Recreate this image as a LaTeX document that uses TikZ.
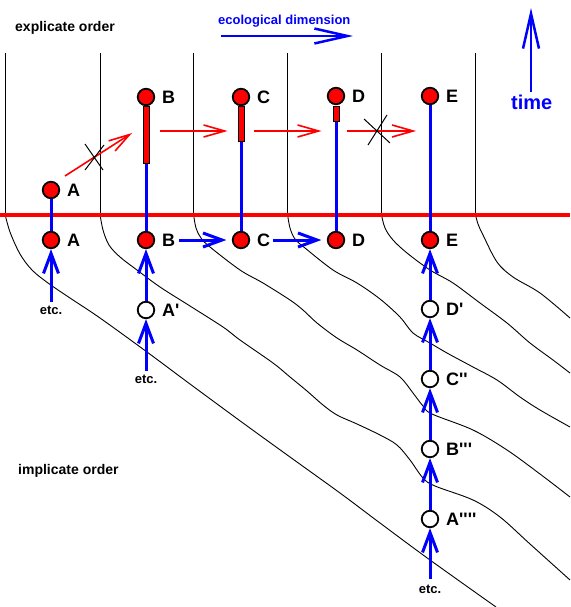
\documentclass[tikz,border=0pt]{standalone}
\usepackage{fontspec}
\newfontfamily\lblfont{Liberation Sans}
\usetikzlibrary{arrows.meta}
\begin{document}
\begin{tikzpicture}[x=1pt,y=-1pt,
  flow/.style={black, line width=0.9pt},
  rnode/.style={circle, draw=black, line width=1.8pt, fill=red, minimum size=16.5pt, inner sep=0pt},
  wnode/.style={rnode, fill=white},
  lab/.style={font=\lblfont\bfseries\fontsize{18}{18}\selectfont, anchor=west, inner sep=0pt},
  etcs/.style={font=\lblfont\bfseries\fontsize{13}{13}\selectfont, inner sep=1pt},
  title/.style={anchor=base west, inner sep=0pt, font=\lblfont\bfseries\fontsize{14}{14}\selectfont},
  bar/.style={draw=black, fill=red, line width=1pt, minimum width=6pt, inner sep=0pt, anchor=north},
  bline/.style={draw=blue, line width=3pt},
  barrow/.style={bline, -{Straight Barb[length=20pt,width=15pt]}},
  harrow/.style={bline, -{Straight Barb[length=19pt,width=14pt]}},
  rarrow/.style={draw=red, line width=1.6pt, -{Straight Barb[length=21pt,width=12pt]}},
  xmark/.style={black, line width=1pt},
]
\fill[white] (0,0) rectangle (570,607);
\useasboundingbox (0,0) rectangle (570,607);

% column separators of the explicate order
\foreach \x in {5,100,193.5,287.5,381.3,475.3} \draw[flow] (\x,53.5) -- (\x,214);

% flow lines of the implicate order
\draw[flow] plot[smooth, tension=0.55] coordinates {(5,214) (10,232) (20,254) (32,270) (48,283) (70,298) (100,318) (147,352) (190,384) (243,423) (290,457) (340,493) (380,523) (430,560) (496,607)};
\draw[flow] plot[smooth, tension=0.55] coordinates {(100,214) (103,230) (109,245) (120,257) (137,270) (160,287) (190,306) (223,327) (240,340) (273,363) (290,377) (307,391) (323,405) (337,415) (357,424) (380,435) (397,445) (410,460) (423,478) (435,486) (473,500) (500,517) (530,544) (570,580)};
\draw[flow] plot[smooth, tension=0.55] coordinates {(193.5,214) (196,228) (201,238) (210,247) (240,270) (263,283) (290,300) (303,310) (317,323) (337,338) (357,350) (380,365) (400,377) (413,393) (423,406) (432,414) (473,430) (507,450) (540,474) (570,497)};
\draw[flow] plot[smooth, tension=0.55] coordinates {(287.5,214) (290,228) (295,239) (305,248) (333,270) (357,283) (380,299) (400,317) (413,333) (430,343) (447,353) (473,367) (497,380) (520,397) (540,410) (570,427)};
\draw[flow] plot[smooth, tension=0.55] coordinates {(381.3,214) (385,228) (393,240) (407,253) (430,270) (453,283) (480,303) (507,323) (530,343) (553,360) (570,373)};
\draw[flow] plot[smooth, tension=0.55] coordinates {(475.3,214) (478,224) (483,235) (497,262) (513,277) (540,293) (570,318)};

% present moment
\draw[red, line width=3.5pt] (0,215) -- (570,215);

% titles
\node[title] (expl) at (15,31.5) {explicate order};
\node[title, text=blue, font=\lblfont\bfseries\fontsize{13}{13}\selectfont] (eco) at (218,24.5) {ecological dimension};
\node[title, text=blue, font=\lblfont\bfseries\fontsize{20}{20}\selectfont] (time) at (511,110) {time};
\node[title] (impl) at (18,474) {implicate order};
\coordinate (ecoS) at (221,36);
\coordinate (ecoE) at (353,36);
\draw[bline, line width=2.5pt, -{Straight Barb[length=33pt,width=15pt]}] (ecoS) -- (ecoE);
\coordinate (timeS) at (531,92);
\coordinate (timeE) at (531,8);
\draw[bline, line width=2.5pt, -{Straight Barb[length=35pt,width=16pt]}] (timeS) -- (timeE);

% explicate nodes
\node[rnode] (tA) at (51,190) {};
\node[rnode] (tB) at (146,97) {};
\node[rnode] (tC) at (241,97) {};
\node[rnode] (tD) at (336,96) {};
\node[rnode] (tE) at (430,96) {};
\node[bar, minimum height=57pt] (barB) at (146,106) {};
\node[bar, minimum height=35pt] (barC) at (241,106) {};
\node[bar, minimum height=15pt] (barD) at (336,106) {};
\node[lab] (ltA) at (67,190) {A};
\node[lab] (ltB) at (162,97) {B};
\node[lab] (ltC) at (257,97) {C};
\node[lab] (ltD) at (352,96) {D};
\node[lab] (ltE) at (446,96) {E};

% present nodes
\node[rnode] (lA) at (51,240) {};
\node[rnode] (lB) at (146,240) {};
\node[rnode] (lC) at (241,240) {};
\node[rnode] (lD) at (336,240) {};
\node[rnode] (lE) at (430,240) {};
\node[lab] (llA) at (67,240) {A};
\node[lab] (llB) at (162,240) {B};
\node[lab] (llC) at (257,240) {C};
\node[lab] (llD) at (352,240) {D};
\node[lab] (llE) at (446,240) {E};

% implicate nodes
\node[wnode] (Ap) at (146,310) {};
\node[wnode] (Dp) at (430,309) {};
\node[wnode] (Cpp) at (430,379) {};
\node[wnode] (Bppp) at (430,449) {};
\node[wnode] (Apppp) at (430,519) {};
\node[lab] (lAp) at (162,310) {A'};
\node[lab] (lDp) at (446,309) {D'};
\node[lab] (lCpp) at (446,379) {C''};
\node[lab] (lBppp) at (446,449) {B'''};
\node[lab] (lApppp) at (446,519) {A''''};
\node[etcs] (eA) at (51,310) {etc.};
\node[etcs] (eAp) at (146,379) {etc.};
\node[etcs] (eE) at (430,589) {etc.};

% life lines
\draw[bline] (tA) -- (lA);
\draw[bline] (barB) -- (lB);
\draw[bline] (barC) -- (lC);
\draw[bline] (barD) -- (lD);
\draw[bline] (tE) -- (lE);

% enfolding arrows
\draw[barrow, shorten <=2pt] (eA) -- (lA);
\draw[barrow, shorten <=3pt] (eAp) -- (Ap);
\draw[barrow] (Ap) -- (lB);
\draw[barrow, shorten <=5pt] (eE) -- (Apppp);
\draw[barrow] (Apppp) -- (Bppp);
\draw[barrow] (Bppp) -- (Cpp);
\draw[barrow] (Cpp) -- (Dp);
\draw[barrow] (Dp) -- (lE);
\draw[harrow, shorten <=4pt, shorten >=5.5pt] (llB.east) -- (lC);
\draw[harrow, shorten <=3pt, shorten >=5.5pt] (llC.east) -- (lD);

% ecological arrows in the explicate order
\coordinate (ry) at (0,131);
\coordinate (dA) at (65,176);
\coordinate (dB) at (132,133);
\draw[rarrow] (dA) -- (dB);
\draw[rarrow, shorten <=10pt, shorten >=10pt] (barB.east |- ry) -- (barC.west |- ry);
\draw[rarrow, shorten <=9pt, shorten >=11pt] (barC.east |- ry) -- (barD.west |- ry);
\draw[rarrow, shorten <=7pt, shorten >=14pt] (barD.east |- ry) -- (tE |- ry);
\draw[xmark] (85,144) -- (103,170) (104,145) -- (85,170);
\draw[xmark] (364,119) -- (390,143) (387,115) -- (368,145);
\end{tikzpicture}
\end{document}
